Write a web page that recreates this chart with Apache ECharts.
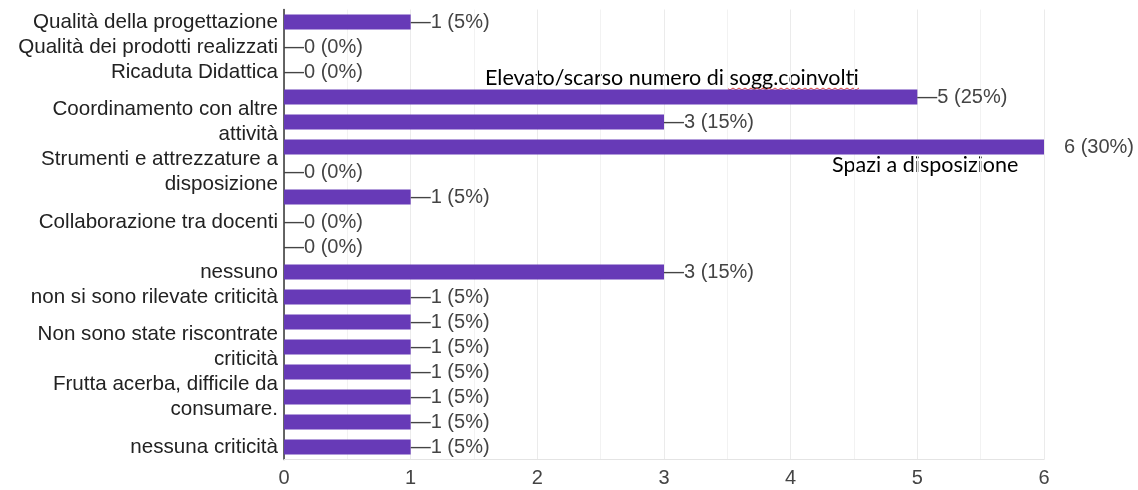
<!DOCTYPE html>
<html>
<head>
<meta charset="utf-8">
<script src="https://cdn.jsdelivr.net/npm/echarts@6/dist/echarts.min.js"></script>
<style>
  html, body { margin: 0; padding: 0; background: #fff; }
  #chart { width: 1138px; height: 490px; }
</style>
</head>
<body>
<div id="chart"></div>
<script>
// row labels (empty rows had their labels covered in the original)
var labels = [
  'Qualità della progettazione',
  'Qualità dei prodotti realizzati',
  'Ricaduta Didattica',
  '',
  'Coordinamento con altre\nattività',
  '',
  'Strumenti e attrezzature a\ndisposizione',
  '',
  'Collaborazione tra docenti',
  '',
  'nessuno',
  'non si sono rilevate criticità',
  '',
  'Non sono state riscontrate\ncriticità',
  '',
  'Frutta acerba, difficile da\nconsumare.',
  '',
  'nessuna criticità'
];
var counts = [1, 0, 0, 5, 3, 6, 0, 1, 0, 0, 3, 1, 1, 1, 1, 1, 1, 1];
var percents = [5, 0, 0, 25, 15, 30, 0, 5, 0, 0, 15, 5, 5, 5, 5, 5, 5, 5];
var xTicks = [0, 1, 2, 3, 4, 5, 6];

var chart = echarts.init(document.getElementById('chart'));

// red spell-check squiggle under the pasted note
var squiggle = [];
for (var i = 0; i <= 44; i++) {
  squiggle.push([727 + i * 3, 88 + (i % 2 ? 2 : 0)]);
}

var font = 'Liberation Sans, Arial, sans-serif';

chart.setOption({
  animation: false,
  grid: { left: 284, right: 94, top: 9.5, bottom: 30.5, containLabel: false },
  xAxis: {
    type: 'value',
    min: xTicks[0],
    max: xTicks[xTicks.length - 1],
    interval: 1,
    axisLine: { show: true, lineStyle: { color: '#e4e4e4', width: 1 } },
    axisTick: { show: false },
    axisLabel: { color: '#444', fontSize: 20, fontFamily: font, margin: 9 },
    splitLine: { show: true, lineStyle: { color: '#ebebeb' } },
    minorSplitLine: { show: true, lineStyle: { color: '#f2f2f2' } },
    minorTick: { show: false, splitNumber: 2 }
  },
  yAxis: {
    type: 'category',
    inverse: true,
    data: labels,
    axisLine: { show: true, lineStyle: { color: '#333', width: 1.5 } },
    axisTick: { show: false },
    axisLabel: {
      color: '#222', fontSize: 20.6, fontFamily: font,
      lineHeight: 25, margin: 6, interval: 0,
      formatter: function (v, idx) { return labels[idx]; }
    }
  },
  series: [{
    type: 'bar',
    data: counts,
    barWidth: 15,
    itemStyle: { color: '#673ab7' },
    label: {
      show: true,
      position: 'right',
      distance: 0,
      color: '#444',
      fontSize: 20,
      fontFamily: font,
      formatter: function (p) {
        var t = counts[p.dataIndex] + ' (' + percents[p.dataIndex] + '%)';
        return counts[p.dataIndex] === xTicks[xTicks.length - 1] ? '\u2003' + t : '—' + t;
      }
    }
  }],
  graphic: [
    { type: 'text', left: 485, top: 67, style: { text: 'Elevato/scarso numero di sogg.coinvolti', font: '21.5px Lato', fill: '#000' } },
    { type: 'text', left: 832, top: 154, style: { text: 'Spazi a disposizione', font: '21.5px Lato', fill: '#000' } },
    { type: 'polyline', shape: { points: squiggle }, style: { stroke: '#e0443a', lineWidth: 1, fill: null } }
  ]
});
</script>
</body>
</html>
